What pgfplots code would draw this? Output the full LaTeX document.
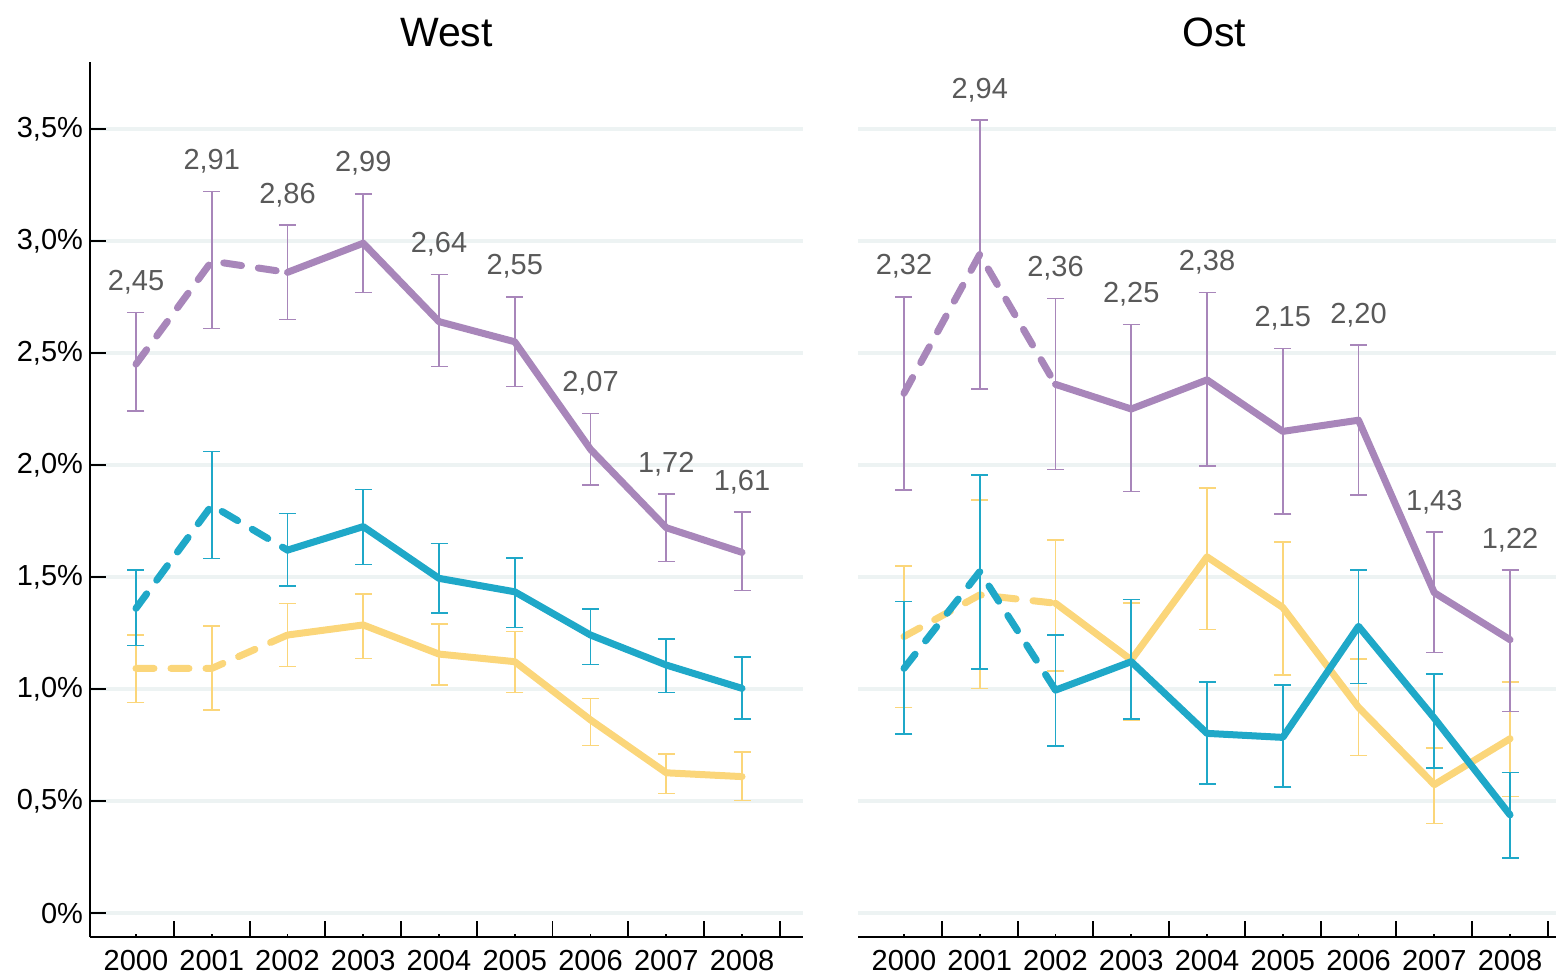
\documentclass[border=0pt]{standalone}
\usepackage{fontspec}
\setmainfont{Liberation Sans}
\usepackage{pgfplots}
\usepackage{pgfplotstable}
\pgfplotsset{compat=1.18}

\definecolor{lila}{HTML}{A886BA}
\definecolor{blau}{HTML}{1FA8C8}
\definecolor{gelb}{HTML}{FBD67A}
\definecolor{gitter}{HTML}{EDF3F3}
\definecolor{wert}{HTML}{595959}

% x = Jahr, y = Wert, up/lo = Fehlerbalken
\pgfplotstableread{
x    y     up    lo    lab
2000 2.45  2.68  2.24  2,45
2001 2.91  3.22  2.61  2,91
2002 2.86  3.07  2.65  2,86
2003 2.99  3.21  2.77  2,99
2004 2.64  2.85  2.44  2,64
2005 2.55  2.75  2.35  2,55
2006 2.07  2.23  1.91  2,07
2007 1.72  1.87  1.57  1,72
2008 1.61  1.79  1.44  1,61
}\westlila
\pgfplotstableread{
x    y     up    lo
2000 1.36  1.53  1.195
2001 1.82  2.06  1.583
2002 1.62  1.783 1.461
2003 1.725 1.89  1.555
2004 1.494 1.65  1.338
2005 1.434 1.586 1.275
2006 1.241 1.357 1.109
2007 1.107 1.223 0.984
2008 1.003 1.143 0.865
}\westblau
\pgfplotstableread{
x    y     up    lo
2000 1.092 1.242 0.94
2001 1.092 1.281 0.906
2002 1.241 1.381 1.10
2003 1.286 1.423 1.137
2004 1.156 1.29  1.018
2005 1.122 1.256 0.984
2006 0.862 0.958 0.747
2007 0.626 0.71  0.533
2008 0.609 0.72  0.503
}\westgelb
\pgfplotstableread{
x    y     up    lo    lab
2000 2.32  2.75  1.888 2,32
2001 2.94  3.54  2.34  2,94
2002 2.36  2.744 1.98  2,36
2003 2.25  2.628 1.881 2,25
2004 2.38  2.77  1.995 2,38
2005 2.15  2.52  1.78  2,15
2006 2.20  2.535 1.866 2,20
2007 1.43  1.70  1.163 1,43
2008 1.22  1.53  0.90  1,22
}\ostlila
\pgfplotstableread{
x    y     up    lo
2000 1.092 1.39  0.80
2001 1.524 1.955 1.088
2002 0.995 1.24  0.745
2003 1.122 1.40  0.865
2004 0.802 1.03  0.575
2005 0.784 1.018 0.563
2006 1.28  1.53  1.024
2007 0.87  1.066 0.648
2008 0.438 0.628 0.246
}\ostblau
\pgfplotstableread{
x    y     up    lo
2000 1.234 1.549 0.917
2001 1.42  1.844 1.003
2002 1.383 1.665 1.08
2003 1.13  1.385 0.862
2004 1.59  1.897 1.265
2005 1.364 1.655 1.063
2006 0.918 1.134 0.703
2007 0.573 0.736 0.40
2008 0.778 1.03  0.52
}\ostgelb

\pgfplotsset{
  panel/.style={
    scale only axis, height=437.5pt,
    ymin=-0.107, ymax=3.799, xmin=1999.393,
    clip=false, no markers,
    axis x line*=bottom,
    axis line style={-, line width=0.9pt, black},
    tick align=inside,
    major tick length=8pt,
    tick style={line width=0.9pt, black},
    xtick={2000.5,2001.5,...,2008.5}, xticklabels={},
    extra x ticks={2000,2001,...,2008},
    extra x tick labels={2000,2001,2002,2003,2004,2005,2006,2007,2008},
    extra x tick style={major tick length=1.5pt},
    xticklabel style={yshift=-3pt},
    ytick={0,0.5,...,3.5},
    ymajorgrids,
    grid style={gitter, line width=1.6pt},
    ticklabel style={font=\fontsize{14.5}{17}\selectfont},
  },
  linie/.style={mark=none, line width=3.5pt, line join=round, line cap=round},
  gestrichelt/.style={linie, dash pattern=on 9pt off 8.5pt},
  fehler/.style={draw=none, mark=none, forget plot,
    error bars/.cd, y dir=both, y explicit,
    error bar style={draw=#1, line width=0.8pt, solid},
    error mark options={draw=#1, rotate=90, mark size=4.25pt, line width=0.8pt}},
  werte/.style={draw=none, mark=none, forget plot,
    nodes near coords, point meta=explicit symbolic,
    nodes near coords style={anchor=base, yshift=11pt, text=wert,
      font=\fontsize{14.5}{17}\selectfont}},
}

\newcommand{\serie}[2]{%
  \addplot[#2, gestrichelt, skip coords between index={3}{9}] table[x=x,y=y] #1;
  \addplot[#2, linie, skip coords between index={0}{2}] table[x=x,y=y] #1;
}
\newcommand{\balken}[2]{%
  \addplot[fehler=#2] table[x=x, y=y,
    y error plus expr=\thisrow{up}-\thisrow{y},
    y error minus expr=\thisrow{y}-\thisrow{lo}] #1;
}

\begin{document}
\begin{tikzpicture}
\path[use as bounding box] (0,0) rectangle (778pt,487pt);

% West
\begin{axis}[panel, at={(45pt,18.5pt)}, anchor=south west,
    width=356.5pt, xmax=2008.805,
    axis y line*=left,
    yticklabels={0\%,{0,5\%},{1,0\%},{1,5\%},{2,0\%},{2,5\%},{3,0\%},{3,5\%}}]
  \serie{\westgelb}{gelb}
  \serie{\westblau}{blau}
  \serie{\westlila}{lila}
  \balken{\westgelb}{gelb}
  \balken{\westblau}{blau}
  \balken{\westlila}{lila}
  \addplot[werte] table[x=x, y=up, meta=lab] \westlila;
\end{axis}

% Ost
\begin{axis}[panel, at={(429pt,18.5pt)}, anchor=south west,
    width=349pt, xmax=2008.607,
    axis y line*=left,
    y axis line style={draw=none},
    ytick style={draw=none}, yticklabels={}]
  \serie{\ostgelb}{gelb}
  \serie{\ostblau}{blau}
  \serie{\ostlila}{lila}
  \balken{\ostgelb}{gelb}
  \balken{\ostblau}{blau}
  \balken{\ostlila}{lila}
  \addplot[werte] table[x=x, y=up, meta=lab] \ostlila;
\end{axis}

\node[anchor=base, font=\fontsize{20.5}{24}\selectfont] at (223.25pt,463.5pt) {West};
\node[anchor=base, font=\fontsize{20.5}{24}\selectfont] at (607pt,463.5pt) {Ost};
\end{tikzpicture}
\end{document}
